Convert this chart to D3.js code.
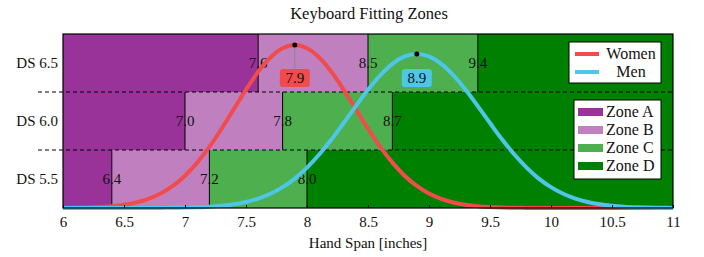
<!DOCTYPE html>
<html>
<head>
<meta charset="utf-8">
<script src="https://cdn.jsdelivr.net/npm/d3@7"></script>
<style>
  body { margin: 0; background: #fff; }
  text { font-family: "Liberation Serif", "DejaVu Serif", serif; fill: #111; }
</style>
</head>
<body>
<div id="chart"></div>
<script>
// rows of the zone chart, top to bottom
var rows = ["DS 6.5", "DS 6.0", "DS 5.5"];
// zone boundaries per row (A|B, B|C, C|D)
var bounds = [
  [7.6, 8.5, 9.4],
  [7.0, 7.8, 8.7],
  [6.4, 7.2, 8.0]
];
var zones = ["Zone A", "Zone B", "Zone C", "Zone D"];
var zoneColors = ["#993399", "#c080c0", "#4daf4d", "#008000"];
var xTicks = [6, 6.5, 7, 7.5, 8, 8.5, 9, 9.5, 10, 10.5, 11];

// hand span distributions
var spanX = [6.0, 6.1, 6.2, 6.3, 6.4, 6.5, 6.6, 6.7, 6.8, 6.9,
             7.0, 7.1, 7.2, 7.3, 7.4, 7.5, 7.6, 7.7, 7.8, 7.9,
             8.0, 8.1, 8.2, 8.3, 8.4, 8.5, 8.6, 8.7, 8.8, 8.9,
             9.0, 9.1, 9.2, 9.3, 9.4, 9.5, 9.6, 9.7, 9.8, 9.9,
             10.0, 10.1, 10.2, 10.3, 10.4, 10.5, 10.6, 10.7, 10.8, 10.9, 11.0];
var women = [0.0006, 0.0012, 0.0025, 0.0048, 0.0089, 0.0158, 0.0271, 0.0448, 0.0709, 0.108,
             0.158, 0.222, 0.299, 0.388, 0.484, 0.580, 0.667, 0.737, 0.782, 0.798,
             0.782, 0.737, 0.667, 0.580, 0.484, 0.388, 0.299, 0.222, 0.158, 0.108,
             0.0709, 0.0448, 0.0271, 0.0158, 0.0089, 0.0048, 0.0025, 0.0012, 0.0006, 0.0003,
             0.0001, 0, 0, 0, 0, 0, 0, 0, 0, 0, 0];
var men = [0, 0, 0, 0, 0, 0.0001, 0.0001, 0.0003, 0.0005, 0.0010,
           0.0019, 0.0036, 0.0063, 0.0110, 0.0183, 0.0295, 0.0462, 0.0698, 0.102, 0.144,
           0.198, 0.262, 0.335, 0.416, 0.499, 0.579, 0.650, 0.706, 0.742, 0.754,
           0.742, 0.706, 0.650, 0.579, 0.499, 0.416, 0.335, 0.262, 0.198, 0.144,
           0.102, 0.0698, 0.0462, 0.0295, 0.0183, 0.0110, 0.0063, 0.0036, 0.0019, 0.0010, 0.0005];
var series = [
  {name: "Women", values: women, peak: 7.9, color: "#f24b4b"},
  {name: "Men", values: men, peak: 8.9, color: "#4dc6ea"}
];

(function(){
  var width = 704, height = 257;
  var pLeft = 63, pRight = 673, pTop = 34, pBottom = 208;

  var svg = d3.select("#chart").append("svg")
    .attr("width", width)
    .attr("height", height)
    .attr("font-family", "Liberation Serif, serif");

  var x = d3.scaleLinear().domain([6, 11]).range([pLeft, pRight]);
  var y = d3.scaleLinear().domain([0, 0.852]).range([pBottom, pTop]);
  var row = d3.scaleBand().domain(rows).range([pTop, pBottom]);

  // zone rectangles
  rows.forEach(function(r, i){
    var edges = [6].concat(bounds[i]).concat([11]);
    for (var z = 0; z < 4; z++) {
      svg.append("rect")
        .attr("x", x(edges[z]))
        .attr("y", row(r))
        .attr("width", x(edges[z+1]) - x(edges[z]))
        .attr("height", row.bandwidth())
        .attr("fill", zoneColors[z]);
    }
  });

  // row separators
  rows.slice(1).forEach(function(r){
    svg.append("line")
      .attr("x1", 38).attr("x2", pRight)
      .attr("y1", row(r)).attr("y2", row(r))
      .attr("stroke", "#000")
      .attr("stroke-width", 1)
      .attr("stroke-dasharray", "4,3");
  });

  // boundary lines and labels
  rows.forEach(function(r, i){
    bounds[i].forEach(function(b){
      svg.append("line")
        .attr("x1", x(b)).attr("x2", x(b))
        .attr("y1", row(r)).attr("y2", row(r) + row.bandwidth())
        .attr("stroke", "#000")
        .attr("stroke-width", 1);
      svg.append("text")
        .attr("x", x(b))
        .attr("y", row(r) + row.bandwidth() / 2 + 5)
        .attr("text-anchor", "middle")
        .style("font-size", "15px")
        .text(b.toFixed(1));
    });
    svg.append("text")
      .attr("x", 58)
      .attr("y", row(r) + row.bandwidth() / 2 + 5)
      .attr("text-anchor", "end")
      .style("font-size", "15px")
      .text(r);
  });

  // curves
  var line = d3.line()
    .x(function(d, i){ return x(spanX[i]); })
    .y(function(d){ return y(d); })
    .curve(d3.curveMonotoneX);

  series.forEach(function(s){
    svg.append("path")
      .attr("d", line(s.values))
      .attr("fill", "none")
      .attr("stroke", s.color)
      .attr("stroke-width", 4);
  });

  // frame
  svg.append("rect")
    .attr("x", pLeft).attr("y", pTop)
    .attr("width", pRight - pLeft).attr("height", pBottom - pTop)
    .attr("fill", "none")
    .attr("stroke", "#000")
    .attr("stroke-width", 1.2);

  // peak markers
  series.forEach(function(s){
    var py = y(s.values[spanX.indexOf(s.peak)]);
    svg.append("line")
      .attr("x1", x(s.peak)).attr("x2", x(s.peak))
      .attr("y1", py).attr("y2", 69)
      .attr("stroke", "#888")
      .attr("stroke-width", 1);
    svg.append("circle")
      .attr("cx", x(s.peak)).attr("cy", py)
      .attr("r", 2.5)
      .attr("fill", "#000");
    svg.append("rect")
      .attr("x", x(s.peak) - 15).attr("y", 69)
      .attr("width", 30).attr("height", 18)
      .attr("rx", 3)
      .attr("fill", s.color);
    svg.append("text")
      .attr("x", x(s.peak))
      .attr("y", 83)
      .attr("text-anchor", "middle")
      .style("font-size", "15px")
      .text(s.peak.toFixed(1));
  });

  // x axis
  var xAxis = d3.axisBottom(x)
    .tickValues(xTicks)
    .tickSizeInner(-3)
    .tickSizeOuter(0)
    .tickPadding(8)
    .tickFormat(d3.format("~g"));

  var gx = svg.append("g")
    .attr("transform", "translate(0," + pBottom + ")")
    .call(xAxis);
  gx.attr("font-family", null);
  gx.select(".domain").remove();
  gx.selectAll("text")
    .style("font-size", "15px")
    .attr("fill", "#111");

  svg.append("text")
    .attr("x", (pLeft + pRight) / 2)
    .attr("y", 248)
    .attr("text-anchor", "middle")
    .style("font-size", "15px")
    .text("Hand Span [inches]");

  svg.append("text")
    .attr("x", (pLeft + pRight) / 2 + 1)
    .attr("y", 19)
    .attr("text-anchor", "middle")
    .style("font-size", "16.5px")
    .text("Keyboard Fitting Zones");

  // legend for curves
  var lg1 = svg.append("g");
  lg1.append("rect")
    .attr("x", 569).attr("y", 42)
    .attr("width", 92).attr("height", 41)
    .attr("fill", "#fff").attr("stroke", "#000");
  series.forEach(function(s, i){
    var ly = 54 + i * 18;
    lg1.append("line")
      .attr("x1", 575).attr("x2", 599)
      .attr("y1", ly).attr("y2", ly)
      .attr("stroke", s.color).attr("stroke-width", 4);
    lg1.append("text")
      .attr("x", 631).attr("y", ly + 5)
      .attr("text-anchor", "middle")
      .style("font-size", "16px")
      .text(s.name);
  });

  // legend for zones
  var lg2 = svg.append("g");
  lg2.append("rect")
    .attr("x", 574).attr("y", 100)
    .attr("width", 87).attr("height", 79)
    .attr("fill", "#fff").attr("stroke", "#000");
  zones.forEach(function(z, i){
    var ly = 112 + i * 18;
    lg2.append("rect")
      .attr("x", 578).attr("y", ly - 4)
      .attr("width", 25).attr("height", 8)
      .attr("fill", zoneColors[i]);
    lg2.append("text")
      .attr("x", 606).attr("y", ly + 5)
      .style("font-size", "16px")
      .text(z);
  });
})();
</script>
</body>
</html>
